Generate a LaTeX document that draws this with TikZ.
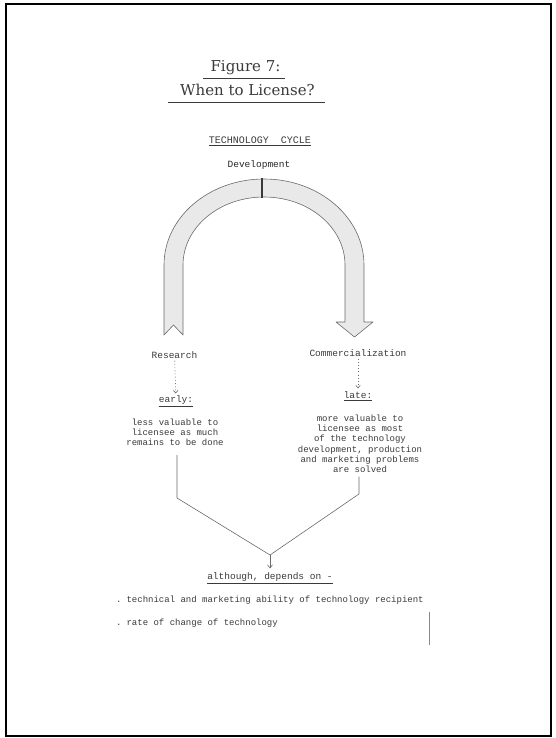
\documentclass[tikz,border=0pt]{standalone}
\usepackage{fontspec}
\setmonofont{Liberation Mono}
\newfontfamily\titlefont{DejaVu Serif}
\usetikzlibrary{arrows.meta}
\definecolor{ink}{HTML}{3A3A3A}
\definecolor{lineink}{HTML}{6A6A6A}
\definecolor{bandfill}{HTML}{E9E9E9}
\begin{document}
\begin{tikzpicture}[x=1pt,y=-1pt,
  every node/.style={inner sep=0pt,text=ink},
  ttl/.style={font=\titlefont\fontsize{15}{18}\selectfont},
  capstyle/.style={font=\ttfamily\fontsize{10}{12}\selectfont},
  lbl/.style={font=\ttfamily\fontsize{9.5}{11}\selectfont},
  txt/.style={font=\ttfamily\fontsize{9}{10.2}\selectfont,align=center},
  link/.style={draw=lineink,line width=0.6pt},
  dotlink/.style={draw=lineink,line width=0.6pt,dash pattern=on 1pt off 2.2pt,-{Straight Barb[length=2.5pt,width=4.5pt]}},
  uline/.style={draw=ink,line width=0.6pt},
  band/.style={draw=lineink,fill=bandfill,line width=0.6pt,line join=round}]
\useasboundingbox (0,0) rectangle (556,738);
% frame
\draw[line width=1.4pt,black] (6,4) rectangle (551,736);
\draw[line width=2.6pt,black] (6,736) -- (6,4) -- (551,4);
% titles
\node[ttl] (fig) at (245.5,68) {Figure 7:};
\node[ttl] (when) at (247.5,90) {When to License?};
\coordinate (u1a) at (203,78); \coordinate (u1b) at (285,78);
\coordinate (u2a) at (168,102); \coordinate (u2b) at (325,102);
\draw[uline] (u1a) -- (u1b);
\draw[uline,line width=0.8pt] (u2a) -- (u2b);
\node[capstyle] (cycle) at (260,140) {TECHNOLOGY\ \ CYCLE};
\draw[uline,line width=0.9pt] ([yshift=-2pt]cycle.south west) -- ([yshift=-2pt]cycle.south east);
\node[lbl,text=black!85] (dev) at (259,165) {Development};
% cycle band
\draw[band] (164,335) -- (164,265)
  arc[start angle=180,end angle=0,x radius=100pt,y radius=86pt]
  -- (364,322) -- (373,322) -- (354.5,337) -- (336,322) -- (345,322) -- (345,265)
  arc[start angle=0,end angle=180,x radius=81pt,y radius=68pt]
  -- (183,335) -- (173.5,325) -- cycle;
\draw[ink,line width=1.3pt] (262,178) -- (262,198);
% labels
\node[lbl] (res) at (174.5,355) {Research};
\node[lbl] (com) at (358,353) {Commercialization};
\node[lbl] (early) at (176,400) {early:};
\node[lbl] (late) at (358,395) {late:};
\draw[uline] ([yshift=-1.5pt]early.south west) -- ([yshift=-1.5pt]early.south east);
\draw[uline] ([yshift=-1.5pt]late.south west) -- ([yshift=-1.5pt]late.south east);
\draw[dotlink,shorten <=2pt,shorten >=2pt] (res) -- (early);
\draw[dotlink,shorten <=2pt,shorten >=3pt] (com) -- (late);
\node[txt] (less) at (175,432.5) {less valuable to\\licensee as much\\remains to be done};
\node[txt] (more) at (360,443.7) {more valuable to\\licensee as most\\of the technology\\development, production\\and marketing problems\\are solved};
% converging lines
\coordinate (lbend) at (177,498);
\coordinate (rbend) at (359,494);
\coordinate (apex) at (270,555);
\draw[link,shorten <=9pt] (less.south -| lbend) -- (lbend) -- (apex);
\draw[link,shorten <=4pt] (more.south -| rbend) -- (rbend) -- (apex);
\node[lbl] (although) at (270,577) {although, depends on -};
\draw[uline] ([yshift=-1.5pt]although.south west) -- ([yshift=-1.5pt]although.south east);
\draw[link,-{Straight Barb[length=3pt,width=5pt]},shorten >=4pt] (apex) -- (although.north);
% bullets
\node[txt,anchor=west] (b1) at (116,600) {.\hspace{5pt}technical and marketing ability of technology recipient};
\node[txt,anchor=west] (b2) at (116,623) {.\hspace{5pt}rate of change of technology};
\coordinate (mk1) at (429,612);
\coordinate (mk2) at (429,645);
\draw[lineink!80,line width=0.5pt] (mk1) -- (mk2);
\end{tikzpicture}
\end{document}
